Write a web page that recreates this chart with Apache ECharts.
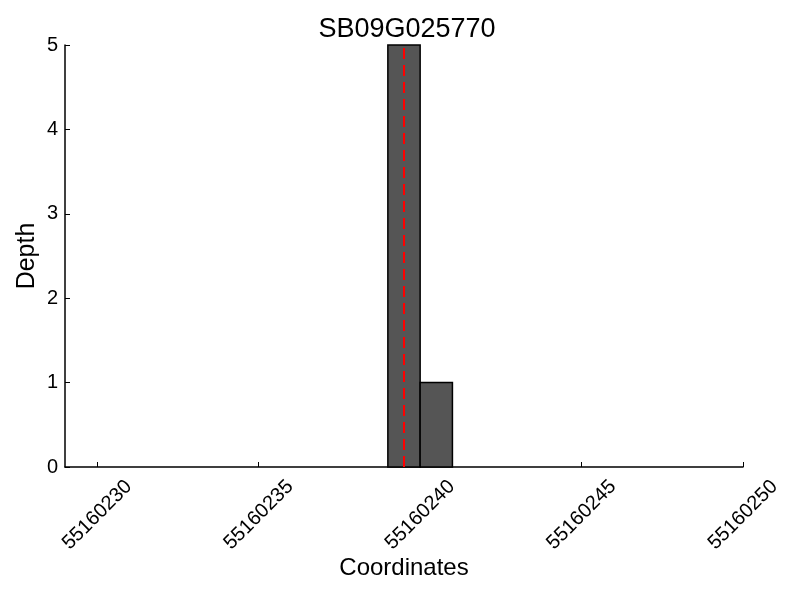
<!DOCTYPE html>
<html>
<head>
<meta charset="utf-8">
<script src="https://cdn.jsdelivr.net/npm/echarts@6/dist/echarts.min.js"></script>
<style>html,body{margin:0;padding:0;background:#fff}#c{width:800px;height:600px}</style>
</head>
<body>
<div id="c"></div>
<script>
var titleText = 'SB09G025770';
var binStarts = [55160239, 55160240];
var binWidth = 1;
var depths = [5, 1];
var markerPos = 55160239.5;
var xMin = 55160229, xMax = 55160250;
var xTicks = [55160230, 55160235, 55160240, 55160245, 55160250];
var yTicks = [0, 1, 2, 3, 4, 5];

var barData = binStarts.map(function (s, i) { return [s, s + binWidth, depths[i]]; });
var font = 'Liberation Sans, Arial, sans-serif';

var chart = echarts.init(document.getElementById('c'));
chart.setOption({
  backgroundColor: '#fff',
  animation: false,
  title: {
    text: titleText, left: 402, top: 11, textAlign: 'center',
    textStyle: { fontFamily: font, fontSize: 27, fontWeight: 'normal', color: '#000' }
  },
  grid: { left: 65, right: 57, top: 45, bottom: 133 },
  xAxis: {
    type: 'value', min: xMin, max: xMax,
    name: 'Coordinates', nameLocation: 'middle', nameGap: 89, nameMoveOverlap: false,
    nameTextStyle: { fontFamily: font, fontSize: 24, color: '#000' },
    axisLine: { show: true, lineStyle: { color: '#000', width: 1.5 } },
    axisTick: { show: true, inside: true, length: 5, customValues: xTicks, lineStyle: { color: '#000', width: 1 } },
    axisLabel: {
      customValues: xTicks, rotate: 45, margin: 48, align: 'center', verticalAlign: 'middle',
      fontFamily: font, fontSize: 20, color: '#000',
      formatter: function (v) { return String(v); }
    },
    splitLine: { show: false }
  },
  yAxis: {
    type: 'value', min: 0, max: 5, interval: 1,
    name: 'Depth', nameLocation: 'middle', nameGap: 25, nameMoveOverlap: false,
    nameTextStyle: { fontFamily: font, fontSize: 25, color: '#000' },
    axisLine: { show: true, lineStyle: { color: '#000', width: 1.5 } },
    axisTick: { show: true, inside: true, length: 5, lineStyle: { color: '#000', width: 1 } },
    axisLabel: { margin: 7, fontFamily: font, fontSize: 20, color: '#000' },
    splitLine: { show: false }
  },
  series: [
    {
      type: 'custom',
      data: barData,
      encode: { x: [0, 1], y: 2 },
      renderItem: function (params, api) {
        var p0 = api.coord([api.value(0), api.value(2)]);
        var p1 = api.coord([api.value(1), 0]);
        return {
          type: 'rect',
          shape: { x: p0[0], y: p0[1], width: p1[0] - p0[0], height: p1[1] - p0[1] },
          style: { fill: '#555555', stroke: '#000', lineWidth: 1.5 }
        };
      },
      z: 2
    },
    {
      type: 'line',
      data: [[markerPos, 0], [markerPos, 5]],
      symbol: 'none',
      lineStyle: { color: '#ff0000', width: 2, type: [11, 6] },
      z: 3
    }
  ]
});
</script>
</body>
</html>
